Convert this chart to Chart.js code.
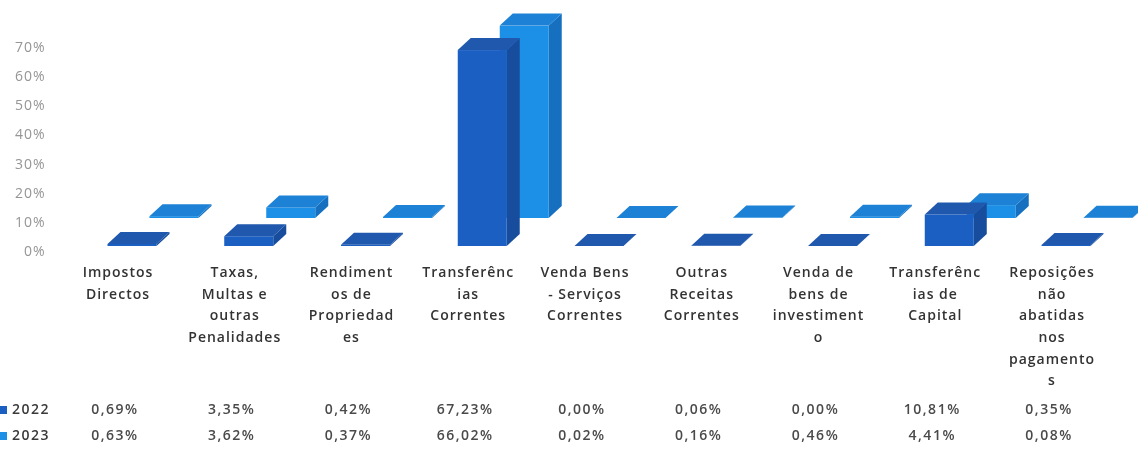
<!DOCTYPE html>
<html><head><meta charset="utf-8">
<script src="https://cdn.jsdelivr.net/npm/chart.js@4.4.0/dist/chart.umd.min.js"></script>
<style>html,body{margin:0;padding:0;background:#fff;overflow:hidden;} #wrap{width:1138px;height:451px;position:relative;}</style>
</head><body><div id="wrap"><canvas id="c" width="1138" height="451"></canvas></div>
<script>
const categories = [
  ["Impostos","Directos"],
  ["Taxas,","Multas e","outras","Penalidades"],
  ["Rendiment","os de","Propriedad","es"],
  ["Transferênc","ias","Correntes"],
  ["Venda Bens","- Serviços","Correntes"],
  ["Outras","Receitas","Correntes"],
  ["Venda de","bens de","investiment","o"],
  ["Transferênc","ias de","Capital"],
  ["Reposições","não","abatidas","nos","pagamento","s"]
];
const seriesNames = ["2022", "2023"];
const series2022 = [0.69, 3.35, 0.42, 67.23, 0.00, 0.06, 0.00, 10.81, 0.35];
const series2023 = [0.63, 3.62, 0.37, 66.02, 0.02, 0.16, 0.46, 4.41, 0.08];
const yTickValues = [0, 10, 20, 30, 40, 50, 60, 70];

const FONT = '"Open Sans", "Liberation Sans", sans-serif';
const palette = {
  "2022": { front: "#1b5fc2", side: "#174d9c", top: "#1f58ad", key: "#1b5fc2" },
  "2023": { front: "#1c90e6", side: "#1670bf", top: "#1d82d6", key: "#1c90e6" }
};

const spacing = {
  id: "spacing",
  beforeDraw(chart) { chart.ctx.letterSpacing = "1px"; },
  afterDraw(chart) { chart.ctx.letterSpacing = "0px"; }
};

const box3d = {
  id: "box3d",
  afterDatasetsDraw(chart) {
    const xs = chart.scales.x, ys = chart.scales.y, ctx = chart.ctx;
    const W = 49, DX = 13, DY = 12;
    const rows = [
      { name: "2023", data: series2023, ox: 56, oy: -34 },
      { name: "2022", data: series2022, ox: 14, oy: -6 }
    ];
    ctx.save();
    rows.forEach(r => {
      const c = palette[r.name];
      r.data.forEach((v, i) => {
        const cx = xs.getPixelForValue(i) + r.ox;
        const yb = ys.getPixelForValue(0) + r.oy;
        const yt = ys.getPixelForValue(v) + r.oy;
        const x0 = cx - W / 2, x1 = cx + W / 2;
        ctx.fillStyle = c.side;
        ctx.beginPath();
        ctx.moveTo(x1, yt); ctx.lineTo(x1 + DX, yt - DY); ctx.lineTo(x1 + DX, yb - DY); ctx.lineTo(x1, yb);
        ctx.closePath(); ctx.fill();
        ctx.fillStyle = c.front;
        ctx.fillRect(x0, yt, W, yb - yt);
        ctx.fillStyle = c.top;
        ctx.beginPath();
        ctx.moveTo(x0, yt); ctx.lineTo(x1, yt); ctx.lineTo(x1 + DX, yt - DY); ctx.lineTo(x0 + DX, yt - DY);
        ctx.closePath(); ctx.fill();
      });
    });
    ctx.restore();
  }
};

const dataTable = {
  id: "dataTable",
  afterDraw(chart) {
    const xs = chart.scales.x, ctx = chart.ctx;
    const rows = [
      { name: "2022", data: series2022, y: 410 },
      { name: "2023", data: series2023, y: 436 }
    ];
    ctx.save();
    ctx.letterSpacing = "1.5px";
    ctx.textBaseline = "middle";
    ctx.font = "600 14px " + FONT;
    rows.forEach(r => {
      ctx.fillStyle = palette[r.name].key;
      ctx.fillRect(0, r.y - 4, 7, 8);
      ctx.fillStyle = "#3a3a3a";
      ctx.textAlign = "left";
      ctx.fillText(r.name, 12, r.y);
      ctx.fillStyle = "#4a4a4a";
      ctx.textAlign = "center";
      r.data.forEach((v, i) => {
        ctx.fillText(v.toFixed(2).replace(".", ",") + "%", xs.getPixelForValue(i) - 3, r.y);
      });
    });
    ctx.restore();
  }
};

new Chart(document.getElementById("c"), {
  type: "bar",
  data: {
    labels: categories,
    datasets: [
      { label: seriesNames[0], data: series2022, backgroundColor: "rgba(0,0,0,0)", grouped: false },
      { label: seriesNames[1], data: series2023, backgroundColor: "rgba(0,0,0,0)", grouped: false }
    ]
  },
  options: {
    responsive: false,
    animation: false,
    devicePixelRatio: 1,
    layout: { padding: { top: 48, right: 27.6, bottom: 0, left: 0 } },
    plugins: { legend: { display: false }, tooltip: { enabled: false } },
    scales: {
      x: {
        grid: { display: false, drawTicks: false },
        border: { display: false },
        ticks: {
          autoSkip: false, maxRotation: 0, minRotation: 0, padding: 10,
          color: "#333333",
          font: { family: FONT, size: 14, weight: "600", lineHeight: 1.55 }
        },
        afterFit(scale) { scale.height = 199; }
      },
      y: {
        min: 0, max: 70,
        afterBuildTicks(scale) { scale.ticks = yTickValues.map(v => ({ value: v })); },
        grid: { display: false, drawTicks: false },
        border: { display: false },
        ticks: {
          padding: 14,
          color: "#959595",
          font: { family: FONT, size: 14 },
          callback: v => v + "%"
        },
        afterFit(scale) { scale.width = 59.6; }
      }
    }
  },
  plugins: [spacing, box3d, dataTable]
});
</script>
</body></html>
